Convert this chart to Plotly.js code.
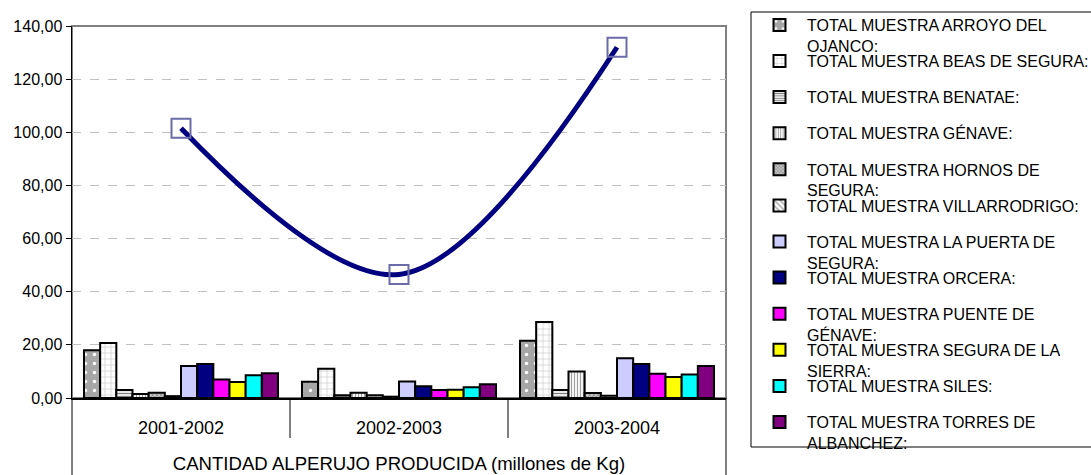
<!DOCTYPE html>
<html><head><meta charset="utf-8">
<script src="https://cdn.plot.ly/plotly-3.0.1.min.js"></script>
<style>html,body{margin:0;padding:0;background:#fff}#chart{width:1091px;height:475px}</style>
</head><body><div id="chart"></div>
<script>
// ---- data ----
const years = ["2001-2002", "2002-2003", "2003-2004"];
const axisTitle = "CANTIDAD ALPERUJO PRODUCIDA (millones de Kg)";
const seriesNames = [
  "TOTAL MUESTRA ARROYO DEL<br>OJANCO:",
  "TOTAL MUESTRA BEAS DE SEGURA:",
  "TOTAL MUESTRA BENATAE:",
  "TOTAL MUESTRA GÉNAVE:",
  "TOTAL MUESTRA HORNOS DE<br>SEGURA:",
  "TOTAL MUESTRA VILLARRODRIGO:",
  "TOTAL MUESTRA LA PUERTA DE<br>SEGURA:",
  "TOTAL MUESTRA ORCERA:",
  "TOTAL MUESTRA PUENTE DE<br>GÉNAVE:",
  "TOTAL MUESTRA SEGURA DE LA<br>SIERRA:",
  "TOTAL MUESTRA SILES:",
  "TOTAL MUESTRA TORRES DE<br>ALBANCHEZ:"
];
const arroyo        = [18.0, 6.1, 21.5];
const beas          = [20.7, 11.0, 28.6];
const benatae       = [3.0, 1.0, 3.0];
const genave        = [1.5, 2.0, 10.0];
const hornos        = [2.0, 1.0, 1.9];
const villarrodrigo = [0.7, 0.5, 0.8];
const laPuerta      = [12.0, 6.2, 15.0];
const orcera        = [12.8, 4.4, 12.8];
const puenteGenave  = [7.0, 3.0, 9.1];
const seguraSierra  = [6.0, 3.1, 7.9];
const siles         = [8.6, 4.0, 8.8];
const torres        = [9.3, 5.2, 12.0];
const totalLine     = [101.5, 46.5, 132.0];

const seriesValues = [arroyo, beas, benatae, genave, hornos, villarrodrigo,
  laPuerta, orcera, puenteGenave, seguraSierra, siles, torres];

// ---- styles ----
const styles = [
  {color: "#a6a6a6", pattern: {shape: ".", fgcolor: "#ffffff", bgcolor: "#a6a6a6", size: 9, solidity: 0.12}},
  {color: "#ffffff", pattern: {shape: "+", fgcolor: "#c8c8c8", bgcolor: "#ffffff", size: 6, solidity: 0.2}},
  {color: "#ffffff", pattern: {shape: "-", fgcolor: "#808080", bgcolor: "#ffffff", size: 3, solidity: 0.45}},
  {color: "#ffffff", pattern: {shape: "|", fgcolor: "#a0a0a0", bgcolor: "#ffffff", size: 3, solidity: 0.4}},
  {color: "#b0b0b0", pattern: {shape: "x", fgcolor: "#808080", bgcolor: "#c8c8c8", size: 3, solidity: 0.4}},
  {color: "#ffffff", pattern: {shape: "\\", fgcolor: "#a0a0a0", bgcolor: "#ffffff", size: 5, solidity: 0.35}},
  {color: "#ccccff"},
  {color: "#000080"},
  {color: "#ff00ff"},
  {color: "#ffff00"},
  {color: "#00ffff"},
  {color: "#800080"}
];

const FONT = "Liberation Sans, Arial, sans-serif";
const W = 1091, H = 475, ML = 72, MR = 365, MT = 26, MB = 77;
const PW = W - ML - MR, PH = H - MT - MB;
const px2x = px => (px - ML) / PW;
const px2y = py => (H - MB - py) / PH;

const legendKey = i => (i === 0 ? "legend" : "legend" + (i + 1));

const traces = seriesValues.map((vals, i) => {
  const m = {color: styles[i].color, line: {color: "#000000", width: 2}};
  if (styles[i].pattern) m.pattern = Object.assign({fillmode: "replace"}, styles[i].pattern);
  return {type: "bar", name: seriesNames[i], x: years, y: vals, marker: m,
          legend: legendKey(i),
          hovertemplate: "%{x}: %{y:.2f}<extra></extra>"};
});

traces.push({
  type: "scatter", mode: "lines+markers", name: "TOTAL", x: years, y: totalLine,
  showlegend: false,
  line: {color: "#000080", width: 5, shape: "spline", smoothing: 1},
  marker: {symbol: "square-open", size: 19, color: "#6b6ba8", line: {width: 2}}
});

const layout = {
  width: W, height: H,
  margin: {l: ML, r: MR, t: MT, b: MB, pad: 0, autoexpand: false},
  paper_bgcolor: "#ffffff", plot_bgcolor: "#ffffff",
  separators: ",.",
  font: {family: FONT, size: 16, color: "#000000"},
  barmode: "group", bargap: 0.11, bargroupgap: 0,
  showlegend: true,
  xaxis: {
    type: "category", showgrid: false, zeroline: false, automargin: false,
    showline: true, linecolor: "#000000", linewidth: 1.5,
    ticks: "", ticklabelstandoff: 13,
    tickfont: {family: FONT, size: 18, color: "#000000"},
    title: {text: axisTitle, font: {family: FONT, size: 18.6, color: "#000000"}, standoff: 20}
  },
  yaxis: {
    range: [0, 140], dtick: 20, tick0: 0, tickformat: ".2f", automargin: false,
    showgrid: true, gridcolor: "#c0c0c0", gridwidth: 1, griddash: "dash",
    zeroline: false, showline: true, linecolor: "#000000", linewidth: 1.5,
    ticks: "outside", ticklen: 5, tickcolor: "#000000", tickwidth: 1,
    tickfont: {family: FONT, size: 16, color: "#000000"}
  },
  shapes: [
    {type: "rect", xref: "paper", yref: "paper", x0: 0, x1: 1, y0: 0, y1: 1,
     line: {color: "#808080", width: 2}, layer: "below"},
    {type: "line", xref: "x", yref: "paper", x0: 0.5, x1: 0.5, y0: 0, y1: px2y(438),
     line: {color: "#000000", width: 1}},
    {type: "line", xref: "x", yref: "paper", x0: 1.5, x1: 1.5, y0: 0, y1: px2y(438),
     line: {color: "#000000", width: 1}},
    {type: "line", xref: "paper", yref: "paper", x0: 0, x1: 0, y0: 0, y1: px2y(476),
     line: {color: "#000000", width: 1}},
    {type: "line", xref: "paper", yref: "paper", x0: 1, x1: 1, y0: 0, y1: px2y(476),
     line: {color: "#000000", width: 1}},
    // legend frame
    {type: "rect", xref: "paper", yref: "paper", x0: px2x(751), x1: px2x(1100),
     y0: px2y(447), y1: px2y(12), line: {color: "#000000", width: 1}, fillcolor: "rgba(0,0,0,0)"}
  ]
};

// one legend per series so each entry sits at its own row like the original
seriesValues.forEach((_, i) => {
  const rowCenter = 23 + i * 36.1;
  layout[legendKey(i)] = {
    x: px2x(752), xanchor: "left", y: px2y(rowCenter - 15), yanchor: "top",
    borderwidth: 0, bgcolor: "rgba(0,0,0,0)",
    font: {family: FONT, size: 16, color: "#000000"},
    valign: "top", itemwidth: 45
  };
});

Plotly.newPlot("chart", traces, layout, {displayModeBar: false, staticPlot: true});
</script>
</body></html>
